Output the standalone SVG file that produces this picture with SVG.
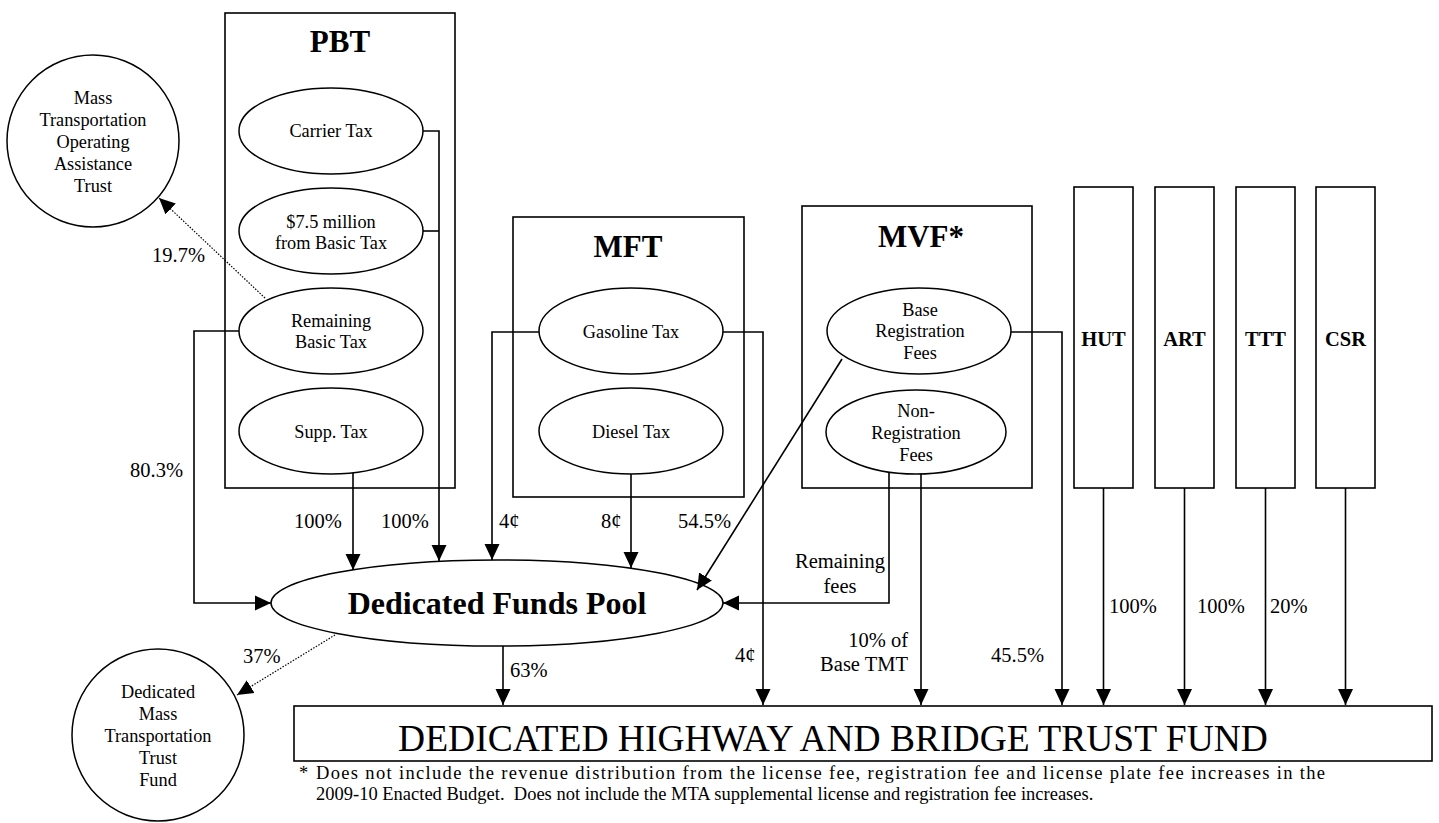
<svg xmlns="http://www.w3.org/2000/svg" width="1439" height="823" viewBox="0 0 1439 823">
<style>
text{font-family:"Liberation Serif","Times New Roman",serif;fill:#000}
.box{fill:#fff;stroke:#000;stroke-width:1.6}
.el{fill:#fff;stroke:#000;stroke-width:1.5}
.t{font-size:18.3px;text-anchor:middle}
.lbl{font-size:20.5px}
.title{font-size:31px;font-weight:bold;text-anchor:middle}
.vt{font-size:20.5px;font-weight:bold;text-anchor:middle}
.ln{fill:none;stroke:#000;stroke-width:1.6;marker-end:url(#ah)}
.ln0{fill:none;stroke:#000;stroke-width:1.6}
.dot{fill:none;stroke:#000;stroke-width:1.2;stroke-dasharray:1.5 1.5;marker-end:url(#ah)}
.fn{font-size:18.5px}
</style>
<defs>
<marker id="ah" markerUnits="userSpaceOnUse" markerWidth="17" markerHeight="16" refX="16" refY="8" orient="auto">
<path d="M0,0.5 L16,8 L0,15.5 Z" fill="#000"/>
</marker>
</defs>
<rect width="1439" height="823" fill="#fff"/>

<g id="pbt">
<rect class="box" x="225" y="13" width="230" height="475"/>
<text class="title" x="340" y="52">PBT</text>
</g>
<g id="carrier-tax"><ellipse class="el" cx="331" cy="131" rx="92" ry="43"/><text class="t" x="331" y="137">Carrier Tax</text></g>
<g id="basic-tax-7-5"><ellipse class="el" cx="331" cy="231" rx="92" ry="43"/><text class="t" x="331" y="228">$7.5 million</text><text class="t" x="331" y="249">from Basic Tax</text></g>
<g id="remaining-basic-tax"><ellipse class="el" cx="331" cy="331" rx="92" ry="43"/><text class="t" x="331" y="327">Remaining</text><text class="t" x="331" y="348">Basic Tax</text></g>
<g id="supp-tax"><ellipse class="el" cx="331" cy="431" rx="92" ry="43"/><text class="t" x="331" y="438">Supp. Tax</text></g>

<g id="mfa-trust"><circle class="el" cx="93" cy="141" r="86"/>
<text class="t" x="93" y="104">Mass</text><text class="t" x="93" y="126">Transportation</text><text class="t" x="93" y="148">Operating</text><text class="t" x="93" y="170">Assistance</text><text class="t" x="93" y="192">Trust</text></g>

<g id="mft">
<rect class="box" x="513" y="217" width="231" height="280"/>
<text class="title" x="628" y="257">MFT</text>
</g>
<g id="gasoline-tax"><ellipse class="el" cx="631" cy="331" rx="92" ry="43"/><text class="t" x="631" y="338">Gasoline Tax</text></g>
<g id="diesel-tax"><ellipse class="el" cx="631" cy="431" rx="92" ry="43"/><text class="t" x="631" y="438">Diesel Tax</text></g>

<g id="mvf">
<rect class="box" x="802" y="206" width="230" height="282"/>
<text class="title" x="921" y="247">MVF*</text>
</g>
<g id="base-registration-fees"><ellipse class="el" cx="919" cy="331" rx="92" ry="43"/><text class="t" x="920" y="316">Base</text><text class="t" x="920" y="337">Registration</text><text class="t" x="920" y="359">Fees</text></g>
<g id="non-registration-fees"><ellipse class="el" cx="916" cy="432" rx="90" ry="42"/><text class="t" x="916" y="417">Non-</text><text class="t" x="916" y="439">Registration</text><text class="t" x="916" y="461">Fees</text></g>

<g id="hut"><rect class="box" x="1074" y="187" width="59" height="301"/><text class="vt" x="1103.5" y="346">HUT</text></g>
<g id="art"><rect class="box" x="1155" y="187" width="59" height="301"/><text class="vt" x="1184.5" y="346">ART</text></g>
<g id="ttt"><rect class="box" x="1236" y="187" width="59" height="301"/><text class="vt" x="1265.5" y="346">TTT</text></g>
<g id="csr"><rect class="box" x="1316" y="187" width="59" height="301"/><text class="vt" x="1345.5" y="346">CSR</text></g>

<g id="dedicated-funds-pool"><ellipse class="el" cx="497" cy="603" rx="226" ry="43"/><text x="497" y="614" style="font-size:32px;font-weight:bold;text-anchor:middle">Dedicated Funds Pool</text></g>

<g id="dmtt-fund"><circle class="el" cx="158" cy="735" r="86"/>
<text class="t" x="158" y="698">Dedicated</text><text class="t" x="158" y="720">Mass</text><text class="t" x="158" y="742">Transportation</text><text class="t" x="158" y="764">Trust</text><text class="t" x="158" y="786">Fund</text></g>

<g id="dhbtf"><rect class="box" x="294" y="706" width="1138" height="55"/><text x="833" y="751" style="font-size:37.5px;text-anchor:middle">DEDICATED HIGHWAY AND BRIDGE TRUST FUND</text></g>

<g id="connectors">
<path class="ln" d="M423,131 H439 V561"/>
<path class="ln0" d="M423,231 H439"/>
<path class="ln" d="M353,473 V570"/>
<path class="ln" d="M239,331 H194 V603 H271"/>
<path class="dot" d="M265,298 L159,198"/>
<path class="ln" d="M539,332 H492 V560"/>
<path class="ln" d="M631,474 V568"/>
<path class="ln" d="M723,332 H763 V705"/>
<path class="ln" d="M842,359 L697,590"/>
<path class="ln" d="M1011,332 H1062 V705"/>
<path class="ln" d="M889,472 V603 H723"/>
<path class="ln" d="M921,474 V705"/>
<path class="ln" d="M1103.5,488 V705"/>
<path class="ln" d="M1184.5,488 V705"/>
<path class="ln" d="M1265.5,488 V705"/>
<path class="ln" d="M1345.5,488 V705"/>
<path class="ln" d="M503,646 V705"/>
<path class="dot" d="M335,635 L237,695"/>
</g>

<g id="labels">
<text class="lbl" x="152" y="262">19.7%</text>
<text class="lbl" x="183" y="477" text-anchor="end">80.3%</text>
<text class="lbl" x="294" y="528">100%</text>
<text class="lbl" x="381" y="528">100%</text>
<text class="lbl" x="499" y="528">4¢</text>
<text class="lbl" x="601" y="528">8¢</text>
<text class="lbl" x="678" y="528">54.5%</text>
<text class="lbl" x="840" y="568" text-anchor="middle">Remaining</text>
<text class="lbl" x="840" y="593" text-anchor="middle">fees</text>
<text class="lbl" x="243" y="663">37%</text>
<text class="lbl" x="510" y="677">63%</text>
<text class="lbl" x="735" y="662">4¢</text>
<text class="lbl" x="908" y="647" text-anchor="end">10% of</text>
<text class="lbl" x="908" y="671" text-anchor="end">Base TMT</text>
<text class="lbl" x="991" y="662">45.5%</text>
<text class="lbl" x="1109" y="613">100%</text>
<text class="lbl" x="1197" y="613">100%</text>
<text class="lbl" x="1270" y="613">20%</text>
</g>

<g id="footnote">
<text class="fn" x="299" y="779">*</text>
<text class="fn" x="316" y="779" textLength="1009" lengthAdjust="spacing">Does not include the revenue distribution from the license fee, registration fee and license plate fee increases in the</text>
<text class="fn" x="316" y="800">2009-10 Enacted Budget.&#160; Does not include the MTA supplemental license and registration fee increases.</text>
</g>
</svg>
